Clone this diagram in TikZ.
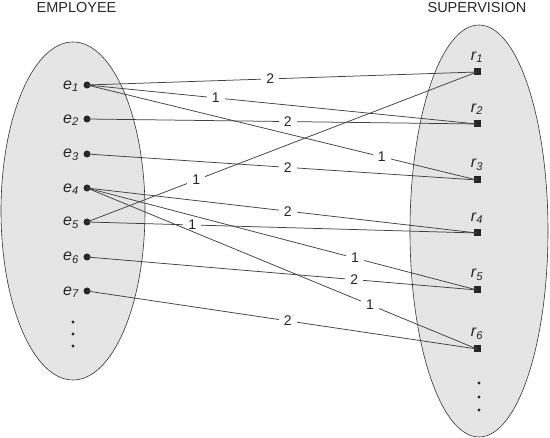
\documentclass[tikz,border=0pt]{standalone}
\usepackage{fontspec}
\setmainfont{Liberation Sans}
\begin{document}
\begin{tikzpicture}[x=1pt,y=-1pt,
  edge/.style={draw=black!75,line width=0.75pt},
  wt/.style={fill=white,inner xsep=5pt,inner ysep=1pt,font=\fontsize{14}{14}\selectfont,text=black!85},
  edot/.style={circle,fill=black!85,inner sep=0pt,minimum size=7pt},
  rsq/.style={rectangle,fill=black!85,inner sep=0pt,minimum size=7pt},
  sdot/.style={circle,fill=black!85,inner sep=0pt,minimum size=3.2pt},
  lbl/.style={font=\fontsize{16}{16}\selectfont,text=black!85,inner sep=1pt},
  title/.style={font=\fontsize{14.5}{15}\selectfont,text=black!85,inner sep=0pt}]
\useasboundingbox (0,0) rectangle (550,438);
\path[fill=black!10,draw=black!80,line width=0.6pt] (73,211) ellipse [x radius=72, y radius=169];
\path[fill=black!10,draw=black!80,line width=0.6pt] (479,231) ellipse [x radius=69, y radius=206];
\node[title] (t1) at (76.5,8) {EMPLOYEE};
\node[title] (t2) at (477,7.5) {SUPERVISION};
% employees
\foreach \i/\y in {1/85,2/119,3/154,4/188,5/222,6/257,7/291}{
  \node[edot] (e\i) at (87,\y) {};
  \node[lbl,anchor=east] (le\i) at (80,\y+1) {\itshape e\textsubscript{\i}};
}
\node[sdot] (ed1) at (73,322) {};
\node[sdot] (ed2) at (73,334) {};
\node[sdot] (ed3) at (73,346) {};
% supervisions
\foreach \i/\y in {1/72,2/124,3/180,4/233,5/290,6/349}{
  \node[rsq] (r\i) at (477,\y) {};
  \node[lbl] (lr\i) at (477,\y-15) {\itshape r\textsubscript{\i}};
}
\node[sdot] (rd1) at (479,383) {};
\node[sdot] (rd2) at (479,397) {};
\node[sdot] (rd3) at (479,410) {};
% edges
\draw[edge] (e1.center) -- node[wt,pos=0.47] {2} (r1.center);
\draw[edge] (e1.center) -- node[wt,pos=0.33] {1} (r2.center);
\draw[edge] (e1.center) -- node[wt,pos=0.756] {1} (r3.center);
\draw[edge] (e2.center) -- node[wt,pos=0.515] {2} (r2.center);
\draw[edge] (e3.center) -- node[wt,pos=0.515] {2} (r3.center);
\draw[edge] (e5.center) -- node[wt,pos=0.28] {1} (r1.center);
\draw[edge] (e4.center) -- node[wt,pos=0.515] {2} (r4.center);
\draw[edge] (e5.center) -- node[wt,pos=0.27] {1} (r4.center);
\draw[edge] (e4.center) -- node[wt,pos=0.687] {1} (r5.center);
\draw[edge] (e6.center) -- node[wt,pos=0.685] {2} (r5.center);
\draw[edge] (e4.center) -- node[wt,pos=0.726] {1} (r6.center);
\draw[edge] (e7.center) -- node[wt,pos=0.515] {2} (r6.center);
\end{tikzpicture}
\end{document}
